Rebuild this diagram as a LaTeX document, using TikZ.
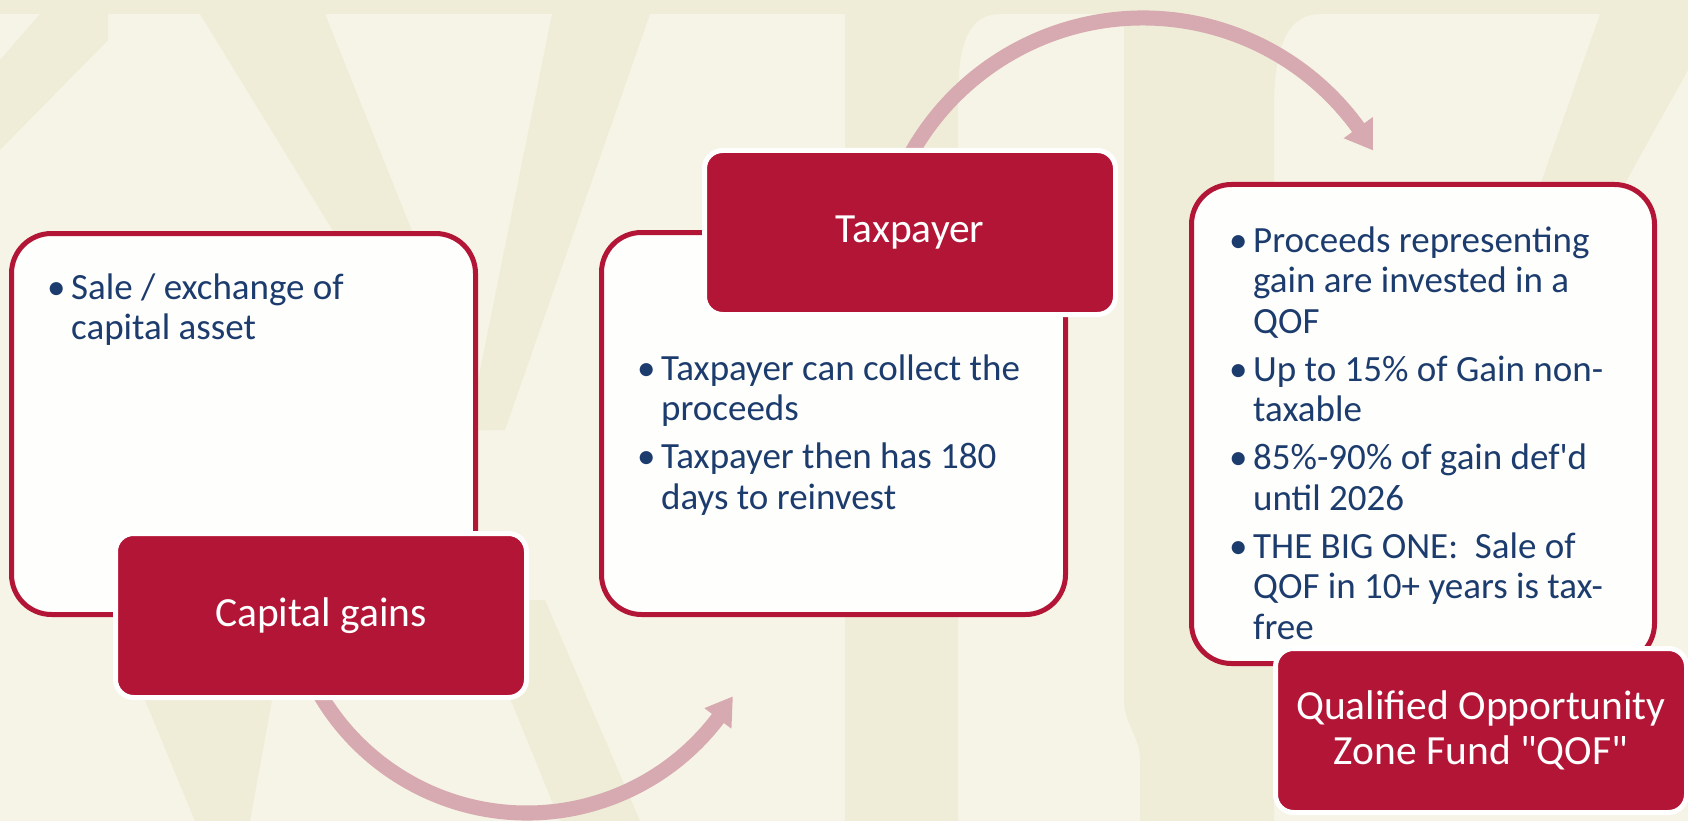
\documentclass[tikz,border=0pt]{standalone}
\usepackage{fontspec}
\setmainfont{Carlito}[Ligatures=TeXOff]
\usetikzlibrary{calc}

\definecolor{bglight}{HTML}{F6F4E6}
\definecolor{bgdark}{HTML}{EFEDD7}
\definecolor{boxred}{HTML}{B31536}
\definecolor{boxwhite}{HTML}{FEFEFC}
\definecolor{navy}{HTML}{1D3C6E}
\definecolor{arrowpink}{HTML}{D7A9B0}

% bullet paragraph with hanging indent
\newcommand{\bpara}[1]{\par\hangindent=22pt\hangafter=1\noindent\makebox[22pt][l]{\hspace{-2pt}\textbullet}#1}

\tikzset{
  infobox/.style={draw=boxred, line width=5pt, fill=boxwhite, rounded corners=40pt,
    minimum width=464pt, minimum height=382pt, inner sep=0pt},
  titlebox/.style={draw=white, line width=5pt, fill=boxred, rounded corners=18pt,
    minimum width=411pt, minimum height=164pt, inner sep=0pt, text=white,
    font=\fontsize{41.5}{45}\selectfont, align=center},
  bodytext/.style={anchor=base west, inner sep=0pt, text=navy,
    font=\fontsize{37}{40.5}\selectfont},
  flowarrow/.style={fill=arrowpink},
  wmark/.style={fill=bgdark}
}

\begin{document}
\begin{tikzpicture}[x=1pt,y=1pt]
  % page and watermark lettering
  \fill[bglight] (0,0) rectangle (1688,-821);
  \useasboundingbox (0,0) rectangle (1688,-821);
  \fill[wmark] (0,0) rectangle (1688,-14);
  \fill[wmark] (200,-14) -- (325,-14) -- (492,-430) -- (455,-430) -- cycle;
  \fill[wmark] (552,-14) -- (650,-14) -- (505,-430) -- (468,-430) -- cycle;
  \fill[wmark] (40,-14) -- (108,-14) -- (108,-40) -- (0,-150) -- (0,-60) -- cycle;
  \fill[wmark] (145,-700) -- (272,-700) -- (250,-821) -- (195,-821) -- cycle;
  \fill[wmark] (470,-600) -- (545,-600) -- (640,-821) -- (560,-821) -- cycle;
  \fill[wmark] (845,-14) -- (1000,-14) to[out=180,in=90] (958,-120) -- (958,-821) -- (845,-821) -- cycle;
  \fill[wmark] (1124,-14) -- (1320,-14) to[out=180,in=90] (1274,-110) -- (1274,-821)
     -- (1140,-821) -- (1140,-760) to[out=90,in=-90] (1124,-700) -- cycle;
  \fill[wmark] (1600,-14) -- (1688,-14) -- (1688,-70) -- (1560,-300) -- (1500,-300) -- cycle;

  % arc centres of the two connectors
  \coordinate (c1) at (527,-573);
  \coordinate (c2) at (1143,-284);

  % connector: capital gains -> taxpayer
  \fill[flowarrow] ($(c1)+(205:247.5)$) arc[start angle=205, end angle=322.7, radius=247.5]
     -- ($(c1)+(322.7:257)$) -- ($(c1)+(329:240)$) -- ($(c1)+(322.7:223)$)
     -- ($(c1)+(322.7:232.5)$) arc[start angle=322.7, end angle=205, radius=232.5] -- cycle;

  % connector: taxpayer -> QOF
  \fill[flowarrow] ($(c2)+(155:273.5)$) arc[start angle=155, end angle=36, radius=273.5]
     -- ($(c2)+(36:284)$) -- ($(c2)+(30.2:266)$) -- ($(c2)+(36:248)$)
     -- ($(c2)+(36:258.5)$) arc[start angle=36, end angle=155, radius=258.5] -- cycle;

  % step 1
  \node[infobox, minimum height=381pt] (box1) at (243.5,-424) {};
  \node[bodytext] (txt1) at (49,-299) {\parbox[t]{400pt}{%
    \bpara{Sale / exchange of\\capital asset}}};
  \node[titlebox] (gains) at (321,-615.5) {\raisebox{-4pt}{Capital gains}};

  % step 2
  \node[infobox] (box2) at (833.5,-423.5) {};
  \node[titlebox] (payer) at (910,-232.5) {\raisebox{-4pt}{Taxpayer}};
  \node[bodytext] (txt2) at (639,-380) {\parbox[t]{400pt}{\parskip=7.5pt
    \bpara{Taxpayer can collect the\\proceeds}
    \bpara{Taxpayer then has 180\\days to reinvest}}};

  % step 3
  \node[infobox, minimum width=463pt, minimum height=479pt] (box3) at (1423,-424) {};
  \node[bodytext] (txt3) at (1231,-252) {\parbox[t]{400pt}{\parskip=7.5pt
    \bpara{Proceeds representing\\gain are invested in a\\QOF}
    \bpara{Up to 15\% of Gain non-\\taxable}
    \bpara{85\%-90\% of gain def'd\\until 2026}
    \bpara{THE BIG ONE:\ \ Sale of\\QOF in 10+ years is tax-\\free}}};
  \node[titlebox] (qof) at (1481,-730.5) {Qualified Opportunity\\Zone Fund "QOF"};
\end{tikzpicture}
\end{document}
